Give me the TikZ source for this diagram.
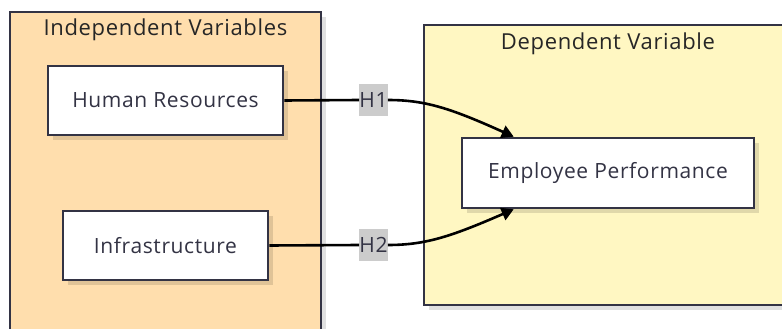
\documentclass[tikz,border=0pt]{standalone}
\usepackage{fontspec}
\setmainfont{Open Sans}[LetterSpace=3]
\usepackage{tikz}
\usetikzlibrary{positioning, arrows.meta, shadows, calc}
\definecolor{Ink}{HTML}{333344}
\definecolor{Peach}{HTML}{FFDEAD}
\definecolor{Lemon}{HTML}{FFF7C2}
\definecolor{Tag}{HTML}{CCCCCC}

\begin{document}
\begin{tikzpicture}[
    x=1pt, y=-1pt,
    cluster/.style={draw=Ink, line width=2.6pt, inner sep=0pt,
        drop shadow={shadow xshift=5pt, shadow yshift=-5pt, opacity=0.12, fill=black}},
    var/.style={draw=Ink, line width=2.6pt, fill=white, minimum height=69pt,
        text=Ink, font=\fontsize{21}{24}\selectfont,
        drop shadow={shadow xshift=5pt, shadow yshift=-5pt, opacity=0.12, fill=black}},
    title/.style={font=\fontsize{22}{25}\selectfont, text=black!85},
    hyp/.style={fill=Tag, text=Ink, minimum width=27pt, minimum height=32pt,
        inner sep=0pt, font=\fontsize{21}{24}\selectfont},
    link/.style={line width=2.6pt, black},
    arr/.style={link, -{Triangle[length=12pt, width=13pt]}}
]
\useasboundingbox (0,0) rectangle (782,329);

% Clusters
\node[cluster, fill=Peach, minimum width=311pt, minimum height=340pt] (indep) at (165.5,182) {};
\node[title] (indeptitle) at (165.5,30) {Independent Variables};
\node[cluster, fill=Lemon, minimum width=370pt, minimum height=280pt] (dep) at (609,165) {};
\node[title] (deptitle) at (608,44) {Dependent Variable};

% Variables
\node[var, minimum width=235pt] (hr) at (165.5,100.5) {Human Resources};
\node[var, minimum width=205pt] (infra) at (165.5,245.5) {Infrastructure};
\node[var, minimum width=292pt, minimum height=70pt] (emp) at (608,173) {Employee Performance};

% Hypotheses
\node[hyp] (h1) at (373.5,100) {H1};
\node[hyp] (h2) at (373.5,245) {H2};
\coordinate (in1) at ($(emp.north west)+(53,0)$);
\coordinate (in2) at ($(emp.south west)+(53,0)$);

\draw[link] (hr.east) -- (h1.west);
\draw[arr] (h1.east) .. controls (425,100) and (450,108) .. (in1);
\draw[link] (infra.east) -- (h2.west);
\draw[arr] (h2.east) .. controls (425,245) and (450,237) .. (in2);

\end{tikzpicture}
\end{document}
